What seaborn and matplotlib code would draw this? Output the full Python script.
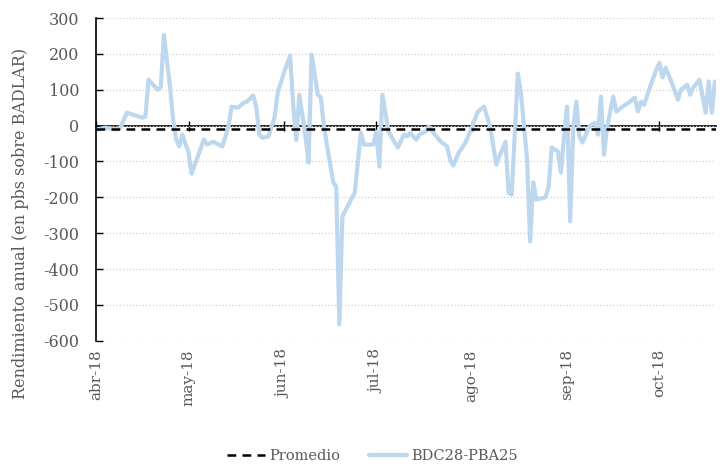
import pandas as pd
import seaborn as sns
import matplotlib.pyplot as plt

# Datos (dias desde el 1-abr-2018, pbs sobre BADLAR)
dias = [0, 3, 7, 8, 10, 15, 16, 17, 20, 21, 22, 24, 25, 26, 27, 28, 30, 31, 35, 36,
        38, 41, 43, 44, 46, 48, 49, 51, 52, 53, 54, 56, 58, 59, 61, 63, 64, 65, 66, 68,
        69, 70, 72, 73, 74, 77, 78, 79, 80, 82, 84, 86, 87, 90, 91, 92, 93, 95, 97, 98,
        100, 101, 102, 103, 104, 105, 107, 108, 110, 112, 114, 115, 116, 118, 119, 120, 122, 124, 126, 128,
        130, 131, 133, 134, 135, 137, 138, 140, 141, 142, 143, 146, 147, 148, 150, 151, 152, 153, 154, 155,
        156, 157, 158, 160, 161, 162, 163, 164, 165, 166, 168, 169, 171, 173, 175, 176, 177, 178, 180, 182,
        183, 184, 185, 187, 189, 190, 192, 193, 194, 196, 198, 199, 200, 201]
valores = [-11, -6, -11, -3, 36, 22, 25, 128, 100, 108, 253, 108, 17, -39, -58, -25, -75, -134, -39, -53,
           -45, -58, -3, 53, 50, 64, 67, 84, 53, -25, -34, -30, 25, 92, 147, 195, 60, -40, 86, -30,
           -103, 198, 86, 78, -3, -158, -170, -554, -253, -220, -187, -20, -53, -53, -17, -114, 86, -17, -47, -61,
           -25, -30, -20, -30, -39, -25, -17, -3, -25, -45, -58, -95, -111, -72, -61, -47, -6, 39, 53, -3,
           -109, -86, -45, -187, -192, 145, 92, -95, -323, -158, -206, -200, -170, -61, -72, -131, -30, 53, -267, -3,
           67, -30, -47, -6, 3, 8, -25, 81, -81, -3, 81, 39, 53, 64, 78, 39, 67, 58, 109, 156,
           175, 134, 161, 120, 72, 100, 114, 86, 106, 128, 36, 123, 36, 123]
promedio = -9

meses = ["abr-18", "may-18", "jun-18", "jul-18", "ago-18", "sep-18", "oct-18"]
inicio_meses = ["2018-04-01", "2018-05-01", "2018-06-01", "2018-07-01",
                "2018-08-01", "2018-09-01", "2018-10-01"]
yticks = [300, 200, 100, 0, -100, -200, -300, -400, -500, -600]

inicio = pd.Timestamp("2018-04-01")
df = pd.DataFrame({"fecha": inicio + pd.to_timedelta(dias, unit="D"), "valor": valores})
ticks_x = pd.to_datetime(inicio_meses)

sns.set_theme(style="white")
plt.rcParams['font.family'] = ['DejaVu Serif']
plt.rcParams['axes.unicode_minus'] = False
gris = '#595959'

fig, ax = plt.subplots(figsize=(7.23, 4.74), dpi=100)
fig.subplots_adjust(left=0.133, right=0.99, top=0.962, bottom=0.281)

ax.yaxis.grid(True, color='#D0D0D0', linestyle=':', linewidth=0.9)
ax.set_axisbelow(True)

sns.lineplot(data=df, x="fecha", y="valor", ax=ax, color='#BDD7EE', linewidth=3.0,
             label='BDC28-PBA25', zorder=2)
ax.axhline(promedio, color='black', linestyle=(0, (3.5, 2.5)), linewidth=1.8,
           label='Promedio', zorder=3)

ax.set_ylim(-600, 300)
ax.set_yticks(yticks)
ax.set_xlim(inicio, inicio + pd.Timedelta(days=201.3))
ax.set_xticks(ticks_x)
ax.set_xticklabels(meses, rotation=90, color=gris, fontsize=11)
ax.tick_params(axis='x', length=0, pad=6)
ax.tick_params(axis='y', direction='in', length=5, width=1, color='black',
               labelcolor=gris, labelsize=11.5, left=True, pad=12)

for lado in ['top', 'right', 'bottom']:
    ax.spines[lado].set_visible(False)
ax.spines['left'].set_color('black')
ax.spines['left'].set_linewidth(1.2)

# eje horizontal en cero con marcas mensuales
eje0 = ax.secondary_xaxis(0, transform=ax.transData)
eje0.set_xticks(ticks_x)
eje0.set_xticklabels([])
eje0.tick_params(direction='inout', length=7, width=1, color='black')
for lado in ['top', 'bottom']:
    eje0.spines[lado].set_color('black')
    eje0.spines[lado].set_linewidth(1.2)

ax.set_xlabel('')
ax.set_ylabel('Rendimiento anual (en pbs sobre BADLAR)', color=gris, fontsize=11.5)
ax.yaxis.set_label_coords(-0.108, 0.365)

handles, labels = ax.get_legend_handles_labels()
orden = [labels.index('Promedio'), labels.index('BDC28-PBA25')]
ax.legend([handles[i] for i in orden], [labels[i] for i in orden],
          loc='lower center', bbox_to_anchor=(0.515, -0.005), bbox_transform=fig.transFigure,
          ncol=2, frameon=False, fontsize=10.5, labelcolor=gris, handlelength=2.6,
          columnspacing=2.0, handletextpad=0.3)

plt.savefig('out.png', dpi=100)
